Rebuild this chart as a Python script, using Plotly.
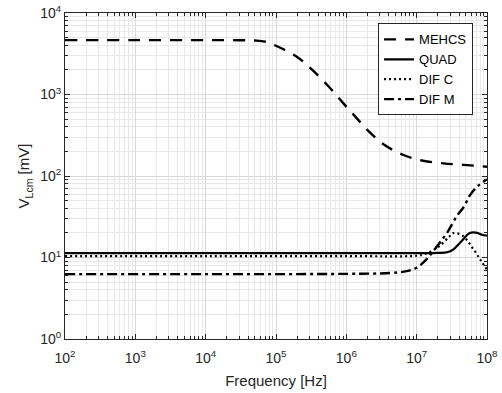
import plotly.graph_objects as go

# Frequency points (Hz) and values (mV)
f_mehcs = [1e2, 1e3, 1e4, 3.0e4, 5.0e4, 7.0e4, 1.07e5, 2.0e5, 3.2e5, 5.4e5, 8.7e5, 1.35e6, 2.0e6, 3.5e6, 6.5e6, 1.23e7, 2.4e7, 4.6e7, 1e8]
v_mehcs = [4650, 4650, 4650, 4640, 4600, 4450, 3850, 2890, 2045, 1300, 813, 532, 366, 240, 181, 154, 143, 137, 130]

f_quad = [1e2, 1e4, 1e6, 1e7, 2.0e7, 2.7e7, 3.3e7, 4.2e7, 5.7e7, 7.0e7, 8.5e7, 1e8]
v_quad = [11.3, 11.3, 11.3, 11.3, 11.4, 11.6, 12.5, 15.4, 20.0, 20.2, 19.0, 18.6]

f_difc = [1e2, 1e4, 1e6, 1e7, 1.26e7, 1.7e7, 2.15e7, 2.9e7, 3.3e7, 4.5e7, 6.5e7, 8.3e7, 1e8]
v_difc = [10.4, 10.4, 10.4, 10.5, 10.9, 12.2, 14.0, 18.0, 19.9, 18.5, 12.4, 9.0, 7.1]

f_difm = [1e2, 1e4, 1e6, 4.2e6, 7.2e6, 1e7, 1.4e7, 2.1e7, 2.7e7, 3.7e7, 4.7e7, 5.8e7, 7.5e7, 1e8]
v_difm = [6.25, 6.25, 6.3, 6.45, 6.8, 7.5, 9.6, 15.0, 20.0, 32, 42, 59, 76, 91]

x_tickvals = [1e2, 1e3, 1e4, 1e5, 1e6, 1e7, 1e8]
x_ticktext = ["10<sup>2</sup>", "10<sup>3</sup>", "10<sup>4</sup>", "10<sup>5</sup>",
              "10<sup>6</sup>", "10<sup>7</sup>", "10<sup>8</sup>"]
y_tickvals = [1, 10, 100, 1000, 10000]
y_ticktext = ["10<sup>0</sup>", "10<sup>1</sup>", "10<sup>2</sup>", "10<sup>3</sup>", "10<sup>4</sup>"]

FONT = "Liberation Sans, Arial"

fig = go.Figure()
fig.add_trace(go.Scatter(x=f_mehcs, y=v_mehcs, mode="lines", name="MEHCS", line_shape="spline",
                         line=dict(color="black", width=2.4, dash="12px,9px")))
fig.add_trace(go.Scatter(x=f_quad, y=v_quad, mode="lines", name="QUAD", line_shape="spline",
                         line=dict(color="black", width=2.2)))
fig.add_trace(go.Scatter(x=f_difc, y=v_difc, mode="lines", name="DIF C", line_shape="spline",
                         line=dict(color="black", width=2.2, dash="2px,3px")))
fig.add_trace(go.Scatter(x=f_difm, y=v_difm, mode="lines", name="DIF M", line_shape="spline",
                         line=dict(color="black", width=2.4, dash="10px,4px,3px,4px")))

axis_common = dict(
    type="log", showline=True, linecolor="#262626", linewidth=1, mirror="allticks",
    ticks="inside", ticklen=5, tickcolor="#262626", automargin=False,
    ticklabeloverflow="allow",
    showgrid=True, gridcolor="#d8d8d8", gridwidth=1, zeroline=False,
    minor=dict(ticks="inside", ticklen=3, tickcolor="#262626", showgrid=True,
               gridcolor="#e8e8e8", gridwidth=1, dtick="D1"),
    tickfont=dict(family=FONT, size=14, color="#262626"),
)

fig.update_xaxes(range=[2, 8], tickvals=x_tickvals, ticktext=x_ticktext, ticklabelstandoff=6,
                 title=dict(text="Frequency [Hz]", font=dict(family=FONT, size=15, color="#262626"), standoff=10),
                 **axis_common)
fig.update_yaxes(range=[0, 4], tickvals=y_tickvals, ticktext=y_ticktext,
                 title=dict(text="V<sub>Lcm</sub> [mV]", font=dict(family=FONT, size=15, color="#262626"), standoff=6),
                 **axis_common)

fig.update_layout(
    width=502, height=393,
    margin=dict(l=65, r=15, t=13, b=54),
    plot_bgcolor="white", paper_bgcolor="white",
    showlegend=True,
    legend=dict(x=0.967, y=0.968, xanchor="right", yanchor="top",
                bgcolor="white", bordercolor="#262626", borderwidth=1,
                font=dict(family=FONT, size=13, color="black"),
                tracegroupgap=0, itemwidth=30),
)

# remove the browser's default body margin so the figure sits at the window origin
fig.write_html("out.html", config={"displayModeBar": False},
               post_script="document.body.style.margin='0';document.body.style.overflow='hidden';")
